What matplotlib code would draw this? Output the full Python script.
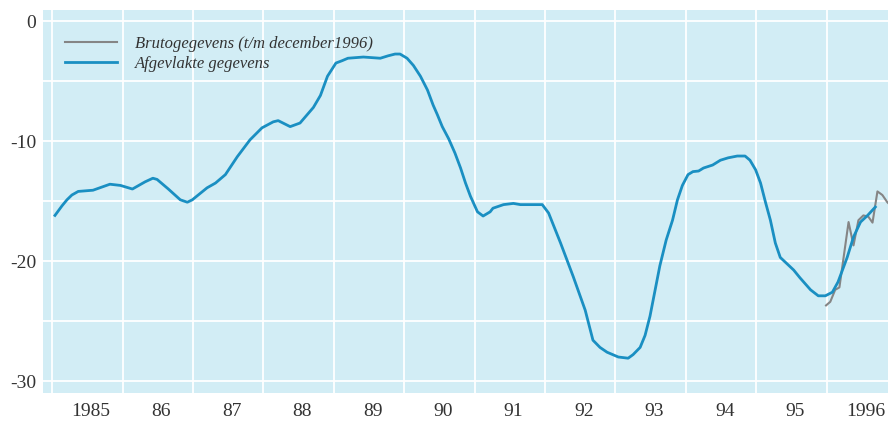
import numpy as np
import matplotlib.pyplot as plt

# smoothed series (decimal year, value)
smooth_t = [1985.04, 1985.14, 1985.21, 1985.28, 1985.37, 1985.58, 1985.82, 1985.97,
            1986.14, 1986.32, 1986.43, 1986.49, 1986.65, 1986.82, 1986.92, 1986.99,
            1987.20, 1987.32, 1987.46, 1987.63, 1987.81, 1987.98, 1988.14, 1988.21,
            1988.38, 1988.52, 1988.71, 1988.81, 1988.91, 1989.03, 1989.12, 1989.20,
            1989.42, 1989.66, 1989.77, 1989.87, 1989.94, 1990.04, 1990.13, 1990.23,
            1990.33, 1990.41, 1990.47, 1990.54, 1990.63, 1990.72, 1990.80, 1990.87,
            1990.94, 1991.04, 1991.12, 1991.22, 1991.26, 1991.41, 1991.55, 1991.65,
            1991.96, 1992.05, 1992.22, 1992.40, 1992.57, 1992.68, 1992.78, 1992.88,
            1993.04, 1993.18, 1993.25, 1993.35, 1993.42, 1993.49, 1993.56, 1993.63,
            1993.72, 1993.81, 1993.88, 1993.95, 1994.03, 1994.10, 1994.18, 1994.25,
            1994.38, 1994.49, 1994.60, 1994.73, 1994.84, 1994.91, 1994.99, 1995.06,
            1995.13, 1995.20, 1995.27, 1995.34, 1995.53, 1995.62, 1995.77, 1995.88,
            1995.98, 1996.08, 1996.16, 1996.29, 1996.38, 1996.48, 1996.58, 1996.69]
smooth_v = [-16.2, -15.4, -14.9, -14.5, -14.2, -14.1, -13.6, -13.7,
            -14.0, -13.4, -13.1, -13.2, -14.0, -14.9, -15.1, -14.9,
            -13.9, -13.5, -12.8, -11.3, -9.9, -8.9, -8.4, -8.3,
            -8.8, -8.5, -7.2, -6.2, -4.6, -3.5, -3.3, -3.1,
            -3.0, -3.1, -2.9, -2.75, -2.75, -3.1, -3.7, -4.6,
            -5.75, -7.0, -7.8, -8.8, -9.8, -11.0, -12.25, -13.5,
            -14.6, -15.9, -16.25, -15.9, -15.6, -15.3, -15.2, -15.3,
            -15.3, -16.0, -18.5, -21.3, -24.1, -26.6, -27.2, -27.6,
            -28.0, -28.1, -27.8, -27.2, -26.2, -24.6, -22.5, -20.4,
            -18.25, -16.6, -14.9, -13.7, -12.8, -12.55, -12.5, -12.25,
            -12.0, -11.6, -11.4, -11.25, -11.25, -11.6, -12.4, -13.5,
            -15.1, -16.6, -18.5, -19.7, -20.75, -21.4, -22.4, -22.9,
            -22.9, -22.6, -21.75, -19.7, -18.0, -16.75, -16.2, -15.5]

# raw series
raw_t = [1995.99, 1996.05, 1996.12, 1996.18, 1996.31, 1996.38, 1996.45,
         1996.52, 1996.59, 1996.65, 1996.72, 1996.79, 1996.86, 1996.93]
raw_v = [-23.7, -23.4, -22.4, -22.2, -16.75, -18.7, -16.6,
         -16.2, -16.3, -16.8, -14.2, -14.5, -15.1, -15.5]

years = list(range(1985, 1997))
year_labels = ['1985', '86', '87', '88', '89', '90', '91', '92', '93', '94', '95', '1996']
y_ticks = [0, -10, -20, -30]

serif = ['Liberation Serif', 'DejaVu Serif']

fig = plt.figure(figsize=(8.88, 4.22), dpi=100)
ax = fig.add_axes([43 / 888, 1 - 393 / 422, 845 / 888, 383 / 422])
ax.set_facecolor('#d2edf5')

for yr in years:
    ax.axvline(yr, color='white', lw=1.3, zorder=1)
for yv in range(-30, 1, 5):
    ax.axhline(yv, color='white', lw=1.3, zorder=1)

ax.plot(raw_t, raw_v, color='#858585', lw=1.5, zorder=3,
        label='Brutogegevens (t/m december1996)')
ax.plot(smooth_t, smooth_v, color='#1a8fc2', lw=2.0, zorder=4,
        label='Afgevlakte gegevens')

ax.set_xlim(1984.87, 1996.87)
ax.set_ylim(-31.0, 0.92)

ax.set_xticks([y + 0.55 for y in years])
ax.set_xticklabels(year_labels, family=serif, fontsize=14, color='#333333')
ax.set_yticks(y_ticks)
ax.set_yticklabels([str(v) for v in y_ticks], family=serif, fontsize=14, color='#333333')
ax.tick_params(length=0)
ax.tick_params(axis='x', pad=7)
ax.tick_params(axis='y', pad=5)
for s in ax.spines.values():
    s.set_visible(False)

leg = ax.legend(loc='upper left', bbox_to_anchor=(0.026, 0.932), frameon=False,
                borderpad=0, borderaxespad=0, handlelength=3.1, handletextpad=1.1,
                labelspacing=0.25, prop={'family': serif, 'style': 'italic', 'size': 12})
for t in leg.get_texts():
    t.set_color('#333333')

fig.savefig('out.png', dpi=100)
